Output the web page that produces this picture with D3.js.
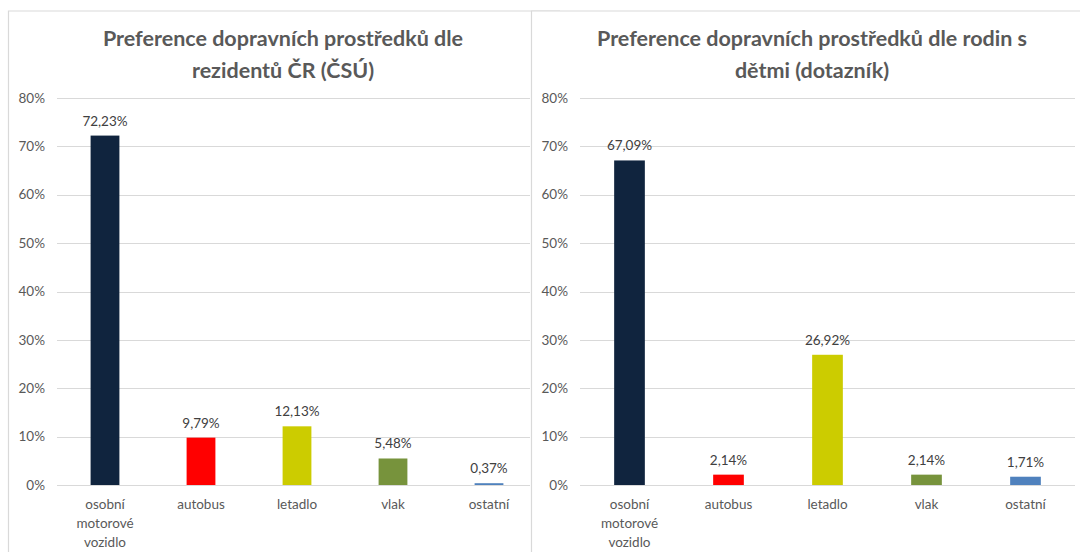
<!DOCTYPE html>
<html>
<head>
    <meta charset="utf-8">
    <title>Preference dopravních prostředků</title>
    <script src="https://d3js.org/d3.v7.min.js"></script>
    <style>
        body { margin: 0; background: #fff; }
        svg { display: block; font-family: Lato, "Open Sans", sans-serif; }
        .title { font-size: 21.5px; font-weight: bold; fill: #595959; }
        .tick-label { font-size: 13.5px; fill: #595959; }
        .cat-label { font-size: 13.5px; fill: #595959; }
        .value-label { font-size: 13.5px; fill: #404040; }
        .grid { stroke: #d9d9d9; stroke-width: 1; }
        .border { stroke: #d9d9d9; stroke-width: 1.2; fill: none; }
    </style>
</head>
<body>
<svg width="1080" height="552"></svg>
<script>
    // data
    var categories = ["osobní motorové vozidlo", "autobus", "letadlo", "vlak", "ostatní"];
    var valuesCSU = [72.23, 9.79, 12.13, 5.48, 0.37];
    var valuesSurvey = [67.09, 2.14, 26.92, 2.14, 1.71];
    var yTicks = [0, 10, 20, 30, 40, 50, 60, 70, 80];
    var barColors = ["#10243e", "#ff0000", "#cccc00", "#77933c", "#4f81bd"];
    var titleCSU = ["Preference dopravních prostředků dle", "rezidentů ČR (ČSÚ)"];
    var titleSurvey = ["Preference dopravních prostředků dle rodin s", "dětmi (dotazník)"];

    var cz = d3.formatLocale({decimal: ",", thousands: " ", grouping: [3], currency: ["", " Kč"]});
    var fmtValue = function(v) { return cz.format(".2f")(v) + "%"; };

    var svg = d3.select("svg");

    function drawPanel(opt) {
        var g = svg.append("g");

        // panel background and frame
        g.append("rect")
         .attr("x", opt.left).attr("y", 11)
         .attr("width", opt.right - opt.left).attr("height", 560)
         .attr("fill", "#fff");
        g.append("path")
         .attr("class", "border")
         .attr("d", "M" + opt.left + ",552V11H" + opt.right);

        var x = d3.scaleBand()
                  .domain(categories)
                  .range([opt.x0, opt.x1])
                  .paddingInner(opt.pad)
                  .paddingOuter(opt.pad / 2);
        var y = d3.scaleLinear().domain([0, 80]).range([485, 98]);

        // grid lines
        g.selectAll(".grid")
         .data(yTicks)
         .enter().append("line")
         .attr("class", "grid")
         .attr("x1", opt.x0).attr("x2", opt.gridEnd)
         .attr("y1", function(d) { return Math.round(y(d)) + 0.5; })
         .attr("y2", function(d) { return Math.round(y(d)) + 0.5; });

        // y tick labels
        g.selectAll(".tick-label")
         .data(yTicks)
         .enter().append("text")
         .attr("class", "tick-label")
         .attr("x", opt.x0 - 12)
         .attr("y", function(d) { return y(d); })
         .attr("dy", "0.35em")
         .attr("text-anchor", "end")
         .text(function(d) { return d + "%"; });

        // bars
        g.selectAll(".bar")
         .data(opt.values)
         .enter().append("rect")
         .attr("class", "bar")
         .attr("x", function(d, i) { return x(categories[i]); })
         .attr("width", x.bandwidth())
         .attr("y", function(d) { return y(d); })
         .attr("height", function(d) { return y(0) - y(d); })
         .attr("fill", function(d, i) { return barColors[i]; });

        // value labels
        g.selectAll(".value-label")
         .data(opt.values)
         .enter().append("text")
         .attr("class", "value-label")
         .attr("x", function(d, i) { return x(categories[i]) + x.bandwidth() / 2; })
         .attr("y", function(d) { return y(d) - 10; })
         .attr("text-anchor", "middle")
         .text(fmtValue);

        // category labels, one word per line
        categories.forEach(function(c) {
            var t = g.append("text")
                     .attr("class", "cat-label")
                     .attr("text-anchor", "middle")
                     .attr("x", x(c) + x.bandwidth() / 2)
                     .attr("y", 509);
            c.split(" ").forEach(function(w, j) {
                t.append("tspan")
                 .attr("x", x(c) + x.bandwidth() / 2)
                 .attr("dy", j === 0 ? 0 : 19)
                 .text(w);
            });
        });

        // title
        opt.title.forEach(function(line, j) {
            g.append("text")
             .attr("class", "title")
             .attr("x", opt.titleX)
             .attr("y", 46 + j * 32)
             .attr("text-anchor", "middle")
             .text(line);
        });
    }

    drawPanel({left: 8.5, right: 560, x0: 57, x1: 537, gridEnd: 530, pad: 0.7,
               values: valuesCSU, title: titleCSU, titleX: 283});
    drawPanel({left: 531.5, right: 1080, x0: 580, x1: 1075, gridEnd: 1075, pad: 0.69,
               values: valuesSurvey, title: titleSurvey, titleX: 812});
</script>
</body>
</html>
